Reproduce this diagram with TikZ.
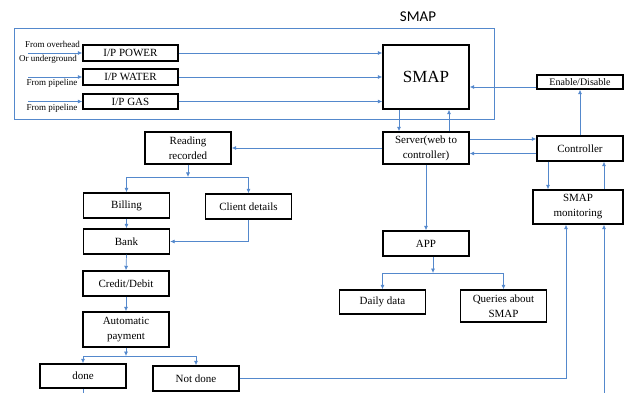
\documentclass[tikz,border=0pt]{standalone}
\usepackage{fontspec}
\setmainfont{Liberation Serif}
\newfontfamily\titlefont{Carlito}
\usepackage{tikz}
\usetikzlibrary{arrows.meta, positioning, calc}
\definecolor{linkblue}{RGB}{84,136,204}

\begin{document}
\begin{tikzpicture}[x=1pt, y=-1pt,%
  flow/.style={draw=linkblue, line width=0.7pt, -{Latex[length=4.5pt,width=4pt]}},%
  wire/.style={draw=linkblue, line width=0.7pt},%
  frame/.style={draw=linkblue, line width=0.7pt},%
  blk/.style={draw, line width=1.4pt, minimum width=86pt, minimum height=25pt, inner sep=1pt, align=center, font=\fontsize{11}{15}\selectfont},%
  inlabel/.style={inner sep=0pt, font=\fontsize{9}{10}\selectfont}%
]
  \useasboundingbox (0,0) rectangle (624,393);
  \node[font=\titlefont\fontsize{15}{16}\selectfont] (title) at (418,17) {SMAP};
  \draw[frame] (14,28) rectangle (494,119);
  % Inputs
  \node[blk, minimum width=95pt, minimum height=16pt] (pw) at (130.5,53) {I/P POWER};
  \node[blk, minimum width=95pt, minimum height=16pt] (wt) at (130.5,77) {I/P WATER};
  \node[blk, minimum width=95pt, minimum height=15pt] (gs) at (130.5,101.5) {I/P GAS};
  \node[blk, minimum height=64pt, font=\fontsize{17}{18}\selectfont] (smap) at (426,77) {SMAP};
  \node[inlabel] (l1) at (52.5,44) {From overhead};
  \node[inlabel] (l2) at (48,59) {Or underground};
  \node[inlabel] (l3) at (52,83) {From pipeline};
  \node[inlabel] (l4) at (52,108) {From pipeline};
  \coordinate (pwin) at (28,53);
  \coordinate (wtin) at (28,77);
  \coordinate (gsin) at (28,101.5);
  \draw[flow] (pwin) -- (pw.west);
  \draw[flow] (wtin) -- (wt.west);
  \draw[flow] (gsin) -- (gs.west);
  \draw[flow] (pw.east) -- (pw.east -| smap.west);
  \draw[flow] (wt.east) -- (wt.east -| smap.west);
  \draw[flow] (gs.east) -- (gs.east -| smap.west);
  % Server and controller
  \node[blk, minimum height=14pt, font=\fontsize{10}{12}\selectfont] (en) at (580,82) {Enable/Disable};
  \node[blk, minimum height=32pt] (srv) at (426,148) {Server(web to\\controller)};
  \node[blk] (ctl) at (580,148.5) {Controller};
  \node[blk, minimum width=90pt, minimum height=34pt] (mon) at (578,207) {SMAP\\monitoring};
  \draw[flow] ([yshift=-5pt]en.west) -- ([yshift=-5pt]en.west -| smap.east);
  \draw[flow] ([xshift=-27pt]smap.south) -- ([xshift=-27pt]srv.north);
  \draw[flow] ([xshift=23pt]srv.north) -- ([xshift=23pt]smap.south);
  \draw[flow] ([yshift=9pt]srv.east) -- ([yshift=9pt]srv.east -| ctl.west);
  \draw[flow] ([yshift=-5pt]ctl.west) -- ([yshift=-5pt]ctl.west -| srv.east);
  \draw[flow] (ctl.north) -- (en.south);
  \draw[flow] ([xshift=-32pt]ctl.south) -- ([xshift=-32pt]ctl.south |- mon.north);
  \draw[flow] ([xshift=26pt]mon.north) -- ([xshift=26pt]mon.north |- ctl.south);
  % Billing branch
  \node[blk, minimum height=32pt] (rd) at (188,148) {Reading\\recorded};
  \node[blk] (bil) at (126.5,205.5) {Billing};
  \node[blk] (cli) at (248.5,206.5) {Client details};
  \node[blk] (bnk) at (126.5,241.5) {Bank};
  \node[blk] (crd) at (126,283.5) {Credit/Debit};
  \node[blk, minimum height=35pt] (aut) at (126,329.5) {Automatic\\payment};
  \node[blk, minimum height=24pt] (dn) at (83,376) {done};
  \node[blk] (nd) at (196,378.5) {Not done};
  \coordinate (rdj) at (188,177);
  \coordinate (autj) at (126,356);
  \draw[flow] (srv.west) -- (rd.east);
  \draw[flow] (rd.south) -- (rdj);
  \draw[flow] (rdj) -| (bil.north);
  \draw[flow] (rdj) -| (cli.north);
  \draw[flow] (bil.south) -- (bnk.north);
  \draw[flow] (cli.south) |- (bnk.east);
  \draw[flow] (bnk.south) -- (crd.north);
  \draw[flow] (crd.south) -- (aut.north);
  \draw[flow] (aut.south) -- (autj);
  \draw[flow] (autj) -| (dn.north);
  \draw[flow] (autj) -| (nd.north);
  \coordinate (dnout) at (83,393);
  \draw[wire] (dn.south) -- (dnout);
  \draw[flow] (nd.east) -| ([xshift=-12pt]mon.south);
  \coordinate (monin) at (604,393);
  \draw[flow] (monin) -- (monin |- mon.south);
  % App branch
  \node[blk] (app) at (426,243.5) {APP};
  \node[blk, minimum height=24pt] (dly) at (382.5,302) {Daily data};
  \node[blk, minimum height=32pt] (qry) at (503.5,306) {Queries about\\SMAP};
  \coordinate (appj) at (433,273);
  \draw[flow] (srv.south) -- (app.north);
  \draw[flow] ([xshift=7pt]app.south) -- (appj);
  \draw[flow] (appj) -| (dly.north);
  \draw[flow] (appj) -| (qry.north);
\end{tikzpicture}
\end{document}
